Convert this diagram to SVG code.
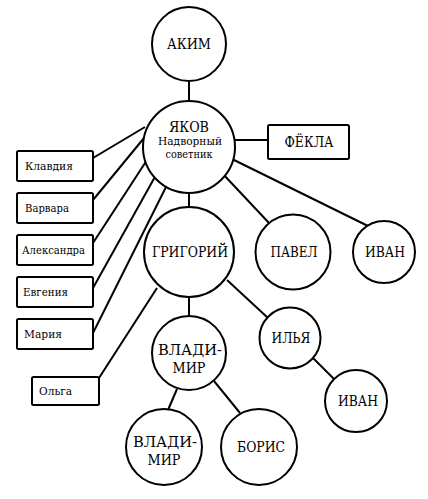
<svg xmlns="http://www.w3.org/2000/svg" width="428" height="499" viewBox="0 0 428 499">
<style>
.c{fill:#fff;stroke:#000;stroke-width:2}
.b{fill:#fff;stroke:#000;stroke-width:2}
.l{stroke:#000;stroke-width:2;fill:none}
.n{font-size:14px;text-anchor:middle}
.s{font-size:11.5px;text-anchor:middle}
.t{font-size:11.5px}
</style>
<rect width="428" height="499" fill="#fff"/>
<g id="connectors" class="l">
<line x1="189" y1="81" x2="189" y2="101"/>
<line x1="189" y1="193" x2="189" y2="207"/>
<line x1="235" y1="140" x2="268" y2="140"/>
<line x1="222" y1="173" x2="269" y2="223"/>
<line x1="232" y1="159" x2="368" y2="226"/>
<line x1="189" y1="297" x2="189" y2="316"/>
<line x1="227" y1="280" x2="268" y2="318"/>
<line x1="177" y1="389" x2="168" y2="410"/>
<line x1="214" y1="381" x2="240" y2="413"/>
<line x1="313" y1="358" x2="334" y2="379"/>
<line x1="99" y1="378" x2="157" y2="288"/>
<line x1="93" y1="158" x2="145" y2="127"/>
<line x1="93" y1="200" x2="144" y2="138"/>
<line x1="93" y1="243" x2="147" y2="160"/>
<line x1="93" y1="288" x2="156" y2="175"/>
<line x1="93" y1="333" x2="167" y2="185"/>
</g>
<g font-family="DejaVu Serif, serif" fill="#000" lengthAdjust="spacingAndGlyphs">
<g id="akim"><circle class="c" cx="189" cy="44" r="37"/><text class="n" x="189" y="49" textLength="44" lengthAdjust="spacingAndGlyphs">АКИМ</text></g>
<g id="yakov"><circle class="c" cx="189" cy="147" r="46"/><text class="n" x="189" y="132" textLength="40" lengthAdjust="spacingAndGlyphs">ЯКОВ</text><text class="s" x="190" y="145" textLength="64" lengthAdjust="spacingAndGlyphs">Надворный</text><text class="s" x="189" y="158" textLength="47" lengthAdjust="spacingAndGlyphs">советник</text></g>
<g id="fekla"><rect class="b" x="268" y="125" width="81" height="34" rx="1.5"/><text class="n" x="309" y="147" textLength="49" lengthAdjust="spacingAndGlyphs">ФЁКЛА</text></g>
<g id="klavdia"><rect class="b" x="17" y="151" width="76" height="30" rx="1.5"/><text class="t" x="25" y="170" textLength="48" lengthAdjust="spacingAndGlyphs">Клавдия</text></g>
<g id="varvara"><rect class="b" x="17" y="193" width="76" height="30" rx="1.5"/><text class="t" x="25" y="212" textLength="44" lengthAdjust="spacingAndGlyphs">Варвара</text></g>
<g id="aleksandra"><rect class="b" x="17" y="235" width="76" height="30" rx="1.5"/><text class="t" x="22" y="254" textLength="63" lengthAdjust="spacingAndGlyphs">Александра</text></g>
<g id="evgenia"><rect class="b" x="17" y="277" width="76" height="30" rx="1.5"/><text class="t" x="23" y="296" textLength="45" lengthAdjust="spacingAndGlyphs">Евгения</text></g>
<g id="maria"><rect class="b" x="17" y="319" width="76" height="30" rx="1.5"/><text class="t" x="24" y="338" textLength="38" lengthAdjust="spacingAndGlyphs">Мария</text></g>
<g id="olga"><rect class="b" x="32" y="377" width="67" height="28" rx="1.5"/><text class="t" x="39" y="395" textLength="33" lengthAdjust="spacingAndGlyphs">Ольга</text></g>
<g id="grigory"><circle class="c" cx="189" cy="252" r="45"/><text class="n" x="190" y="257" textLength="76" lengthAdjust="spacingAndGlyphs">ГРИГОРИЙ</text></g>
<g id="pavel"><circle class="c" cx="293" cy="252" r="37.5"/><text class="n" x="294" y="257" textLength="47" lengthAdjust="spacingAndGlyphs">ПАВЕЛ</text></g>
<g id="ivan1"><circle class="c" cx="384" cy="252" r="31"/><text class="n" x="385" y="257" textLength="40" lengthAdjust="spacingAndGlyphs">ИВАН</text></g>
<g id="vladimir1"><circle class="c" cx="189" cy="353" r="37"/><text class="n" x="190" y="355" textLength="64" lengthAdjust="spacingAndGlyphs">ВЛАДИ-</text><text class="n" x="189" y="373" textLength="33" lengthAdjust="spacingAndGlyphs">МИР</text></g>
<g id="ilya"><circle class="c" cx="290" cy="338" r="30.5"/><text class="n" x="291" y="343" textLength="39" lengthAdjust="spacingAndGlyphs">ИЛЬЯ</text></g>
<g id="ivan2"><circle class="c" cx="356" cy="401" r="31"/><text class="n" x="358" y="406" textLength="40" lengthAdjust="spacingAndGlyphs">ИВАН</text></g>
<g id="vladimir2"><circle class="c" cx="164" cy="447" r="38"/><text class="n" x="165" y="447" textLength="64" lengthAdjust="spacingAndGlyphs">ВЛАДИ-</text><text class="n" x="164" y="465" textLength="33" lengthAdjust="spacingAndGlyphs">МИР</text></g>
<g id="boris"><circle class="c" cx="259" cy="447" r="38"/><text class="n" x="261" y="452" textLength="48" lengthAdjust="spacingAndGlyphs">БОРИС</text></g>
</g>
</svg>
